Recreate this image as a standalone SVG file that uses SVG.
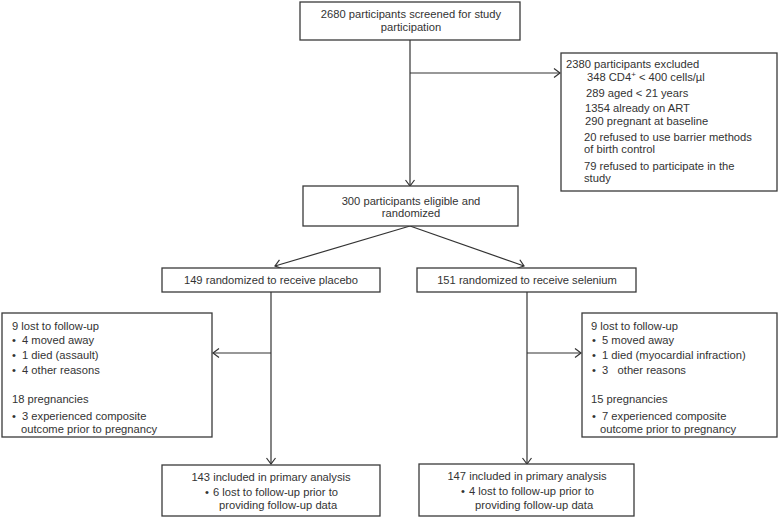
<svg xmlns="http://www.w3.org/2000/svg" width="780" height="518" viewBox="0 0 780 518">
<defs>
<style>
.box{fill:#fff;stroke:#3a3a3a;stroke-width:1.3}
.ln{fill:none;stroke:#333;stroke-width:1.2}
text{font-family:"Liberation Sans",Arial,sans-serif;font-size:11.2px;fill:#333}
.c{text-anchor:middle}
.pre{white-space:pre}
</style>
<marker id="arr" markerUnits="userSpaceOnUse" markerWidth="12" markerHeight="12" refX="7" refY="5" orient="auto">
<path d="M1,0.5 L7,5 L1,9.5" fill="none" stroke="#333" stroke-width="1.2"/>
</marker>
</defs>
<rect width="780" height="518" fill="#fff"/>
<g id="connectors">
<line class="ln" x1="410" y1="40" x2="410" y2="186" marker-end="url(#arr)"/>
<line class="ln" x1="410" y1="73" x2="560" y2="73" marker-end="url(#arr)"/>
<line class="ln" x1="410" y1="226" x2="275" y2="266" marker-end="url(#arr)"/>
<line class="ln" x1="410" y1="226" x2="524" y2="266" marker-end="url(#arr)"/>
<line class="ln" x1="271" y1="292" x2="271" y2="464" marker-end="url(#arr)"/>
<line class="ln" x1="271" y1="353" x2="213" y2="353" marker-end="url(#arr)"/>
<line class="ln" x1="527" y1="292" x2="527" y2="464" marker-end="url(#arr)"/>
<line class="ln" x1="527" y1="353" x2="581" y2="353" marker-end="url(#arr)"/>
</g>
<g id="screened">
<rect class="box" x="300" y="2" width="220" height="38"/>
<text class="c" x="411" y="18">2680 participants screened for study</text>
<text class="c" x="411" y="31">participation</text>
</g>
<g id="excluded">
<rect class="box" x="561" y="53" width="216" height="138"/>
<text x="566" y="68">2380 participants excluded</text>
<text x="587" y="81">348 CD4<tspan font-size="8" dy="-4">+</tspan><tspan dy="4"> &lt; 400 cells/µl</tspan></text>
<text x="586" y="97">289 aged &lt; 21 years</text>
<text x="585" y="112">1354 already on ART</text>
<text x="585" y="125">290 pregnant at baseline</text>
<text x="584" y="141">20 refused to use barrier methods</text>
<text x="584" y="153">of birth control</text>
<text x="584" y="170">79 refused to participate in the</text>
<text x="584" y="182">study</text>
</g>
<g id="eligible">
<rect class="box" x="303" y="186" width="215" height="40"/>
<text class="c" x="411" y="205">300 participants eligible and</text>
<text class="c" x="411" y="217">randomized</text>
</g>
<g id="placebo">
<rect class="box" x="162" y="268" width="218" height="24"/>
<text class="c" x="271" y="284">149 randomized to receive placebo</text>
</g>
<g id="selenium">
<rect class="box" x="417" y="268" width="219" height="24"/>
<text class="c" x="527" y="284">151 randomized to receive selenium</text>
</g>
<g id="placebo-loss">
<rect class="box" x="2" y="313" width="210" height="124"/>
<text x="12" y="330">9 lost to follow-up</text>
<text x="12" y="344">•</text><text x="22" y="344">4 moved away</text>
<text x="12" y="359">•</text><text x="22" y="359">1 died (assault)</text>
<text x="12" y="374">•</text><text x="22" y="374">4 other reasons</text>
<text x="12" y="403">18 pregnancies</text>
<text x="12" y="420">•</text><text x="22" y="420">3 experienced composite</text>
<text x="21" y="433">outcome prior to pregnancy</text>
</g>
<g id="selenium-loss">
<rect class="box" x="582" y="313" width="195" height="124"/>
<text x="591" y="330">9 lost to follow-up</text>
<text x="592" y="344">•</text><text x="602" y="344">5 moved away</text>
<text x="592" y="359">•</text><text x="602" y="359">1 died (myocardial infraction)</text>
<text x="592" y="374">•</text><text class="pre" x="602" y="374">3   other reasons</text>
<text x="591" y="403">15 pregnancies</text>
<text x="592" y="420">•</text><text x="602" y="420">7 experienced composite</text>
<text x="600" y="433">outcome prior to pregnancy</text>
</g>
<g id="placebo-primary">
<rect class="box" x="162" y="465" width="218" height="51"/>
<text class="c" x="271" y="481">143 included in primary analysis</text>
<text x="205" y="496">•</text><text x="213" y="496">6 lost to follow-up prior to</text>
<text x="219" y="509">providing follow-up data</text>
</g>
<g id="selenium-primary">
<rect class="box" x="419" y="464" width="215" height="52"/>
<text class="c" x="527" y="480">147 included in primary analysis</text>
<text x="461" y="495">•</text><text x="469" y="495">4 lost to follow-up prior to</text>
<text x="475" y="509">providing follow-up data</text>
</g>
</svg>
